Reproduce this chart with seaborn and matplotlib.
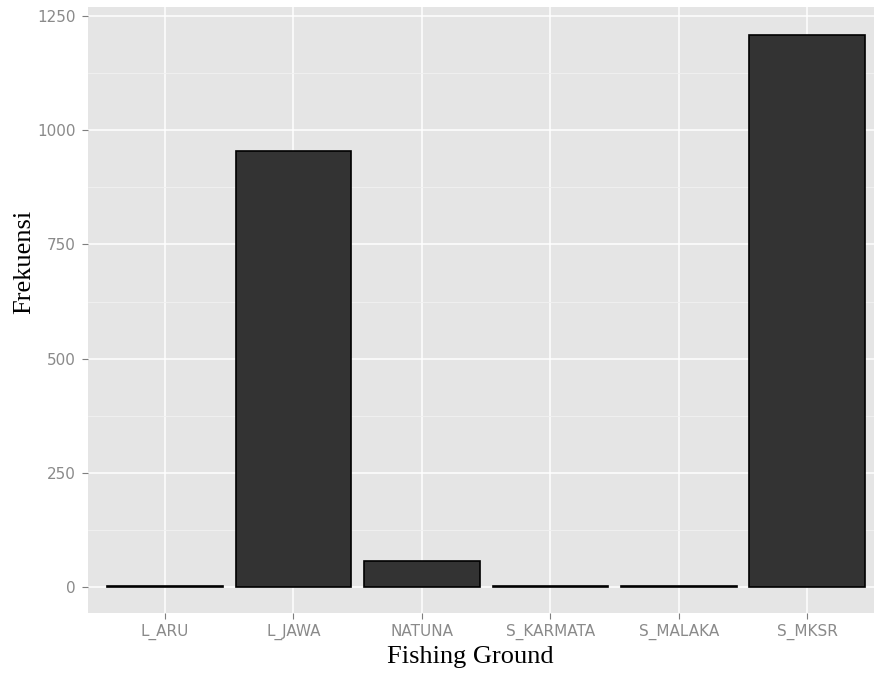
import matplotlib
matplotlib.use("Agg")
import matplotlib.pyplot as plt
from matplotlib.ticker import MultipleLocator
import seaborn as sns
import pandas as pd

categories = ["L_ARU", "L_JAWA", "NATUNA", "S_KARMATA", "S_MALAKA", "S_MKSR"]
frekuensi = [3, 955, 57, 2, 2, 1209]

df = pd.DataFrame({"Fishing Ground": categories, "Frekuensi": frekuensi})

sns.set_theme(style="darkgrid")
fig = plt.figure(figsize=(8.74, 6.77), dpi=100)
ax = fig.add_axes([88/874, (677-613)/677, 1 - 88/874, (613-7)/677])
ax.set_facecolor("#e5e5e5")

sns.barplot(data=df, x="Fishing Ground", y="Frekuensi", color="#333333",
            edgecolor="black", linewidth=1.2, width=0.9, saturation=1, ax=ax,
            zorder=3)

ax.set_xlim(-0.6, 5.52)
ax.set_ylim(-57, 1270)
ax.yaxis.set_major_locator(MultipleLocator(250))
ax.yaxis.set_minor_locator(MultipleLocator(125))
ax.grid(which="major", color="white", linewidth=1.1, zorder=0)
ax.grid(which="minor", axis="y", color="#f2f2f2", linewidth=0.6, zorder=0)
ax.set_axisbelow(True)
for s in ax.spines.values():
    s.set_visible(False)

ax.tick_params(axis="both", which="major", bottom=True, left=True, length=4,
               width=0.8, color="#7f7f7f", labelcolor="#8a8a8a", labelsize=11)
ax.tick_params(axis="x", which="major", pad=4)
ax.tick_params(axis="y", which="major", pad=5)
ax.tick_params(axis="both", which="minor", length=0, bottom=False, left=False)
for lab in ax.get_xticklabels() + ax.get_yticklabels():
    lab.set_family("DejaVu Sans")

ax.set_xlabel("Fishing Ground", family="Liberation Serif", fontsize=19, color="black")
ax.set_ylabel("Frekuensi", family="Liberation Serif", fontsize=19, color="black")
ax.xaxis.set_label_coords(0.486, -0.0545)
ax.yaxis.set_label_coords(-0.0669, 0.579)

fig.savefig("out.png", dpi=100)
